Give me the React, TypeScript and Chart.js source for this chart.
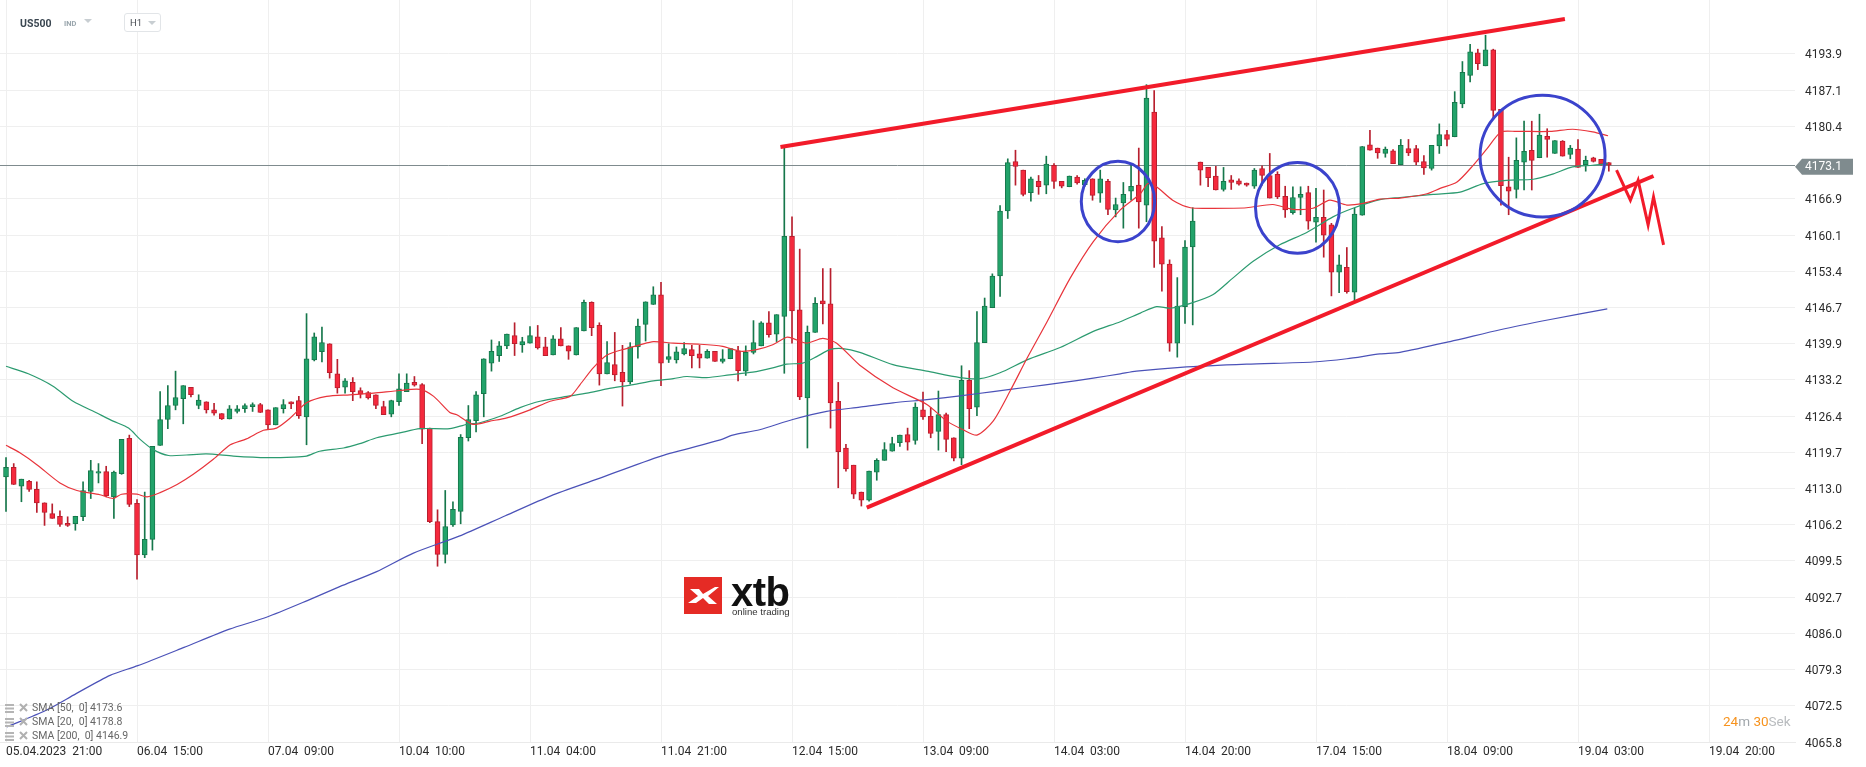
import React, { useEffect, useRef } from "react";
import { Chart, registerables } from "chart.js";

Chart.register(...registerables);

// ---------- DATA ----------
const xTickIndex = [0, 17, 34, 51, 68, 85, 102, 119, 136, 153, 170, 187, 204, 221];
const xTickLabels = [
  "05.04.2023  21:00", "06.04  15:00", "07.04  09:00", "10.04  10:00", "11.04  04:00",
  "11.04  21:00", "12.04  15:00", "13.04  09:00", "14.04  03:00", "14.04  20:00",
  "17.04  15:00", "18.04  09:00", "19.04  03:00", "19.04  20:00",
];
const yTickValues = [
  4065.8, 4072.5, 4079.3, 4086.0, 4092.7, 4099.5, 4106.2, 4113.0, 4119.7, 4126.4,
  4133.2, 4139.9, 4146.7, 4153.4, 4160.1, 4166.9, 4180.4, 4187.1, 4193.9,
];

const opens = [
  4115.1,4116.9,4113.4,4114.3,4112.8,4110.3,4108.3,4107.8,4106.5,4106.4,
  4107.7,4112.4,4115.8,4116.1,4111.4,4115.7,4122.3,4110.2,4100.6,4103.5,
  4121.0,4125.8,4128.4,4129.7,4131.8,4128.4,4129.1,4127.6,4126.9,4125.9,
  4127.3,4127.8,4128.2,4128.6,4127.6,4124.8,4127.8,4129.1,4129.3,4126.3,
  4136.9,4138.4,4139.9,4134.3,4131.8,4132.7,4131.2,4130.8,4130.4,4128.2,
  4126.8,4129.1,4131.0,4132.7,4132.3,4124.2,4106.8,4100.7,4106.2,4108.7,
  4122.4,4125.6,4130.6,4136.3,4137.7,4139.5,4141.4,4139.7,4140.0,4141.2,
  4139.3,4137.8,4140.8,4139.5,4137.8,4142.3,4147.6,4143.3,4134.3,4136.0,
  4134.6,4132.8,4139.3,4143.5,4147.2,4149.0,4137.0,4136.9,4138.0,4138.8,
  4138.0,4137.2,4138.5,4136.6,4137.1,4138.6,4134.8,4138.3,4139.5,4143.8,
  4141.7,4145.0,4159.9,4146.2,4129.8,4142.0,4147.9,4147.3,4129.2,4120.5,
  4117.3,4112.3,4110.8,4116.0,4118.2,4119.9,4121.5,4123.0,4121.9,4127.6,
  4126.4,4123.6,4126.7,4122.4,4118.6,4133.1,4128.1,4140.1,4146.6,4152.5,
  4164.6,4173.8,4172.2,4168.0,4170.1,4169.4,4173.1,4170.1,4169.1,4170.9,
  4169.5,4170.6,4167.9,4170.1,4164.8,4166.1,4168.3,4169.4,4165.7,4183.0,
  4159.6,4154.7,4140.0,4146.8,4157.9,4173.7,4172.7,4171.1,4168.6,4170.4,
  4170.2,4169.8,4169.2,4172.5,4171.2,4171.4,4167.3,4164.3,4167.1,4168.0,
  4162.5,4163.4,4162.0,4153.2,4154.1,4149.5,4163.8,4176.9,4176.3,4175.3,
  4175.8,4173.2,4176.2,4176.2,4173.8,4172.5,4176.7,4178.8,4178.4,4184.5,
  4189.8,4194.0,4191.6,4194.6,4183.5,4169.1,4168.6,4173.7,4175.9,4174.5,
  4178.5,4175.3,4177.6,4175.1,4176.1,4173.2,4174.5,4174.2,4173.6,
];
const highs = [
  4118.7,4117.6,4114.7,4114.5,4114.2,4110.3,4110.1,4108.8,4107.7,4107.8,
  4114.2,4118.2,4117.6,4117.1,4116.2,4122.1,4122.9,4110.9,4112.3,4120.8,
  4131.0,4132.1,4134.8,4132.1,4131.8,4130.4,4129.1,4128.8,4126.9,4128.4,
  4128.4,4128.7,4128.9,4128.8,4127.6,4128.0,4129.5,4129.1,4130.1,4145.5,
  4141.9,4143.0,4139.9,4137.0,4133.4,4133.6,4131.7,4131.0,4130.4,4129.2,
  4129.4,4134.3,4134.3,4133.8,4132.5,4124.2,4109.0,4112.6,4110.5,4123.0,
  4128.4,4131.0,4137.1,4140.6,4140.3,4141.7,4143.8,4141.1,4143.1,4143.3,
  4141.1,4141.4,4142.9,4139.5,4142.9,4148.0,4147.7,4143.8,4140.3,4142.0,
  4139.6,4140.1,4144.5,4147.7,4150.5,4151.3,4139.9,4139.3,4140.1,4139.6,
  4139.6,4138.8,4138.5,4138.8,4139.0,4139.4,4139.5,4144.2,4144.0,4145.9,
  4145.3,4176.5,4163.5,4157.5,4143.2,4148.5,4153.9,4153.9,4132.7,4121.2,
  4117.3,4112.3,4116.2,4118.5,4121.5,4122.5,4122.9,4124.2,4128.9,4130.9,
  4128.0,4131.1,4127.0,4122.4,4135.8,4134.9,4145.9,4148.4,4152.9,4165.6,
  4174.3,4175.9,4172.2,4170.9,4171.2,4174.8,4173.4,4170.1,4171.1,4171.2,
  4170.6,4170.6,4172.2,4170.5,4167.0,4169.9,4173.1,4176.3,4188.1,4187.0,
  4161.7,4155.5,4152.2,4159.1,4165.2,4173.7,4172.7,4172.9,4172.7,4171.2,
  4170.6,4169.8,4172.5,4173.0,4175.3,4171.9,4169.2,4169.1,4169.1,4169.2,
  4168.8,4168.5,4162.3,4156.4,4157.8,4165.1,4176.6,4179.6,4176.3,4176.5,
  4176.0,4177.9,4177.9,4176.8,4174.9,4176.8,4180.8,4179.6,4186.8,4192.4,
  4195.6,4194.7,4197.3,4194.7,4183.5,4174.6,4178.2,4181.3,4181.3,4182.6,
  4179.9,4177.7,4177.7,4176.8,4177.9,4174.8,4174.6,4174.2,4173.6,
];
const lows = [
  4108.7,4113.7,4110.5,4112.4,4108.5,4106.1,4107.4,4105.9,4105.9,4105.2,
  4107.0,4111.1,4114.0,4111.4,4107.4,4115.6,4109.6,4096.1,4100.1,4101.5,
  4121.0,4124.1,4127.6,4125.0,4130.0,4127.8,4127.0,4126.6,4125.8,4125.9,
  4127.0,4127.1,4127.3,4127.1,4123.9,4124.8,4127.0,4127.8,4126.0,4121.1,
  4136.7,4136.5,4133.5,4130.7,4130.7,4129.3,4129.8,4129.6,4127.8,4126.7,
  4126.3,4128.4,4131.0,4132.0,4121.3,4106.6,4098.5,4099.1,4105.9,4106.4,
  4121.8,4123.5,4126.3,4134.8,4136.6,4139.0,4137.7,4138.3,4140.0,4138.9,
  4137.7,4137.8,4139.5,4137.0,4137.8,4142.3,4141.4,4132.2,4134.3,4133.0,
  4128.3,4132.4,4137.2,4140.4,4147.2,4132.1,4136.4,4136.3,4137.8,4135.4,
  4135.4,4137.2,4136.6,4136.3,4137.1,4133.0,4134.0,4138.0,4139.5,4141.1,
  4140.3,4134.4,4140.0,4129.5,4120.5,4142.0,4143.6,4124.2,4113.1,4116.2,
  4111.1,4109.7,4110.6,4114.5,4118.2,4119.9,4120.8,4120.1,4121.2,4125.8,
  4122.4,4120.1,4119.8,4118.1,4117.4,4124.1,4126.5,4140.1,4146.6,4148.7,
  4163.2,4169.4,4167.4,4166.4,4167.7,4167.8,4168.8,4168.9,4169.1,4169.6,
  4169.2,4166.6,4166.2,4163.9,4163.5,4161.4,4166.6,4161.4,4162.6,4154.1,
  4149.7,4138.5,4137.4,4143.7,4143.4,4169.4,4169.1,4168.5,4168.3,4168.6,
  4169.4,4169.2,4168.8,4169.4,4167.0,4166.9,4163.4,4164.0,4163.9,4161.2,
  4158.8,4156.0,4148.8,4149.4,4149.3,4147.9,4163.8,4175.9,4174.4,4174.6,
  4173.4,4173.2,4174.9,4173.2,4171.4,4172.2,4175.3,4176.7,4178.4,4183.8,
  4188.6,4190.9,4191.6,4181.8,4165.7,4163.9,4167.0,4168.5,4168.5,4174.5,
  4174.6,4175.3,4174.8,4174.3,4172.7,4172.0,4173.7,4173.1,4172.0,
];
const closes = [
  4116.9,4113.7,4114.7,4112.8,4110.3,4108.5,4107.4,4106.3,4106.1,4107.8,
  4112.6,4116.3,4116.1,4111.6,4116.0,4122.1,4110.0,4100.6,4103.5,4120.8,
  4125.8,4128.4,4129.9,4132.1,4130.4,4129.4,4127.6,4127.0,4125.9,4127.8,
  4127.8,4128.4,4128.6,4127.1,4124.8,4128.0,4128.6,4128.7,4126.5,4137.1,
  4141.2,4140.1,4134.5,4131.7,4133.0,4131.0,4130.5,4129.8,4128.4,4126.7,
  4129.3,4131.5,4132.6,4132.2,4124.0,4106.8,4100.7,4105.9,4109.1,4122.5,
  4125.8,4130.4,4137.1,4138.5,4139.5,4141.7,4139.9,4140.3,4141.4,4139.1,
  4137.7,4140.8,4139.5,4138.5,4142.9,4147.6,4142.9,4134.3,4136.4,4134.1,
  4132.8,4139.3,4143.2,4147.7,4149.0,4136.3,4137.5,4138.4,4139.0,4137.7,
  4137.2,4138.5,4136.6,4137.1,4139.0,4134.9,4138.3,4140.1,4143.8,4141.6,
  4145.3,4159.9,4146.0,4130.0,4142.0,4147.4,4147.3,4128.9,4119.8,4116.6,
  4111.9,4110.8,4116.2,4118.2,4120.2,4121.3,4122.9,4121.6,4128.1,4126.3,
  4123.2,4126.7,4122.1,4118.6,4133.1,4127.8,4140.1,4146.9,4152.5,4164.6,
  4173.6,4172.9,4167.7,4170.6,4169.1,4173.3,4170.1,4169.2,4171.1,4169.8,
  4170.3,4167.5,4170.6,4164.9,4165.8,4167.7,4169.2,4166.3,4185.6,4159.0,
  4154.7,4140.0,4146.9,4157.9,4162.7,4172.2,4170.8,4168.5,4170.1,4169.9,
  4169.6,4169.4,4172.2,4171.2,4167.0,4167.2,4164.8,4167.1,4167.7,4162.7,
  4163.4,4160.1,4153.2,4154.6,4149.6,4164.0,4176.6,4175.9,4175.4,4176.1,
  4173.4,4176.8,4175.4,4173.7,4172.6,4176.8,4178.8,4177.9,4184.8,4190.4,
  4194.2,4192.0,4194.6,4183.3,4169.3,4168.3,4174.0,4175.7,4174.0,4178.7,
  4177.9,4177.7,4174.8,4176.3,4172.7,4174.0,4173.8,4173.3,4173.1,
];

// moving averages: [bar index, value]
const sma20: [number, number][] = [
  [0,4121.0],[1.8,4119.6],[4.0,4117.4],[7.0,4114.0],[9.2,4112.6],[12.2,4111.8],[13.9,4111.1],[15.0,4111.9],
  [17.0,4111.9],[18.3,4111.4],[20.0,4112.2],[22.2,4113.7],[24.3,4115.6],[26.9,4118.4],[29.1,4121.1],[31.2,4122.2],
  [33.4,4123.8],[35.1,4124.2],[36.9,4126.1],[39.0,4128.9],[41.6,4130.1],[44.6,4130.4],[47.7,4130.7],[51.1,4131.2],
  [53.7,4131.4],[55.5,4130.1],[57.6,4127.1],[58.5,4126.7],[60.6,4124.9],[62.8,4125.5],[65.0,4126.1],[68.0,4127.6],
  [70.6,4129.2],[73.2,4130.1],[74.5,4132.3],[76.2,4135.4],[78.0,4137.8],[80.5,4139.0],[82.3,4139.7],[84.0,4140.3],
  [86.6,4140.0],[90.1,4139.8],[93.0,4139.4],[95.3,4138.5],[97.4,4138.8],[99.5,4139.7],[101.3,4141.1],[102.1,4140.9],
  [103.9,4140.0],[106.0,4140.9],[107.8,4140.0],[110.8,4135.9],[115.1,4131.7],[119.5,4128.6],[122.1,4125.5],[124.2,4123.9],
  [126.0,4122.9],[128.1,4125.5],[130.3,4131.1],[132.5,4137.2],[135.1,4144.0],[138.1,4152.1],[141.1,4158.9],[144.6,4164.8],
  [147.2,4167.8],[148.2,4169.7],[149.3,4169.1],[151.4,4166.6],[153.7,4165.2],[156.6,4165.1],[161.0,4165.2],[164.4,4165.8],
  [167.0,4164.9],[169.6,4165.1],[171.8,4166.6],[174.0,4165.7],[176.1,4166.0],[178.3,4166.8],[180.9,4167.0],[184.4,4167.8],
  [186.1,4168.8],[188.3,4170.0],[190.4,4173.1],[192.2,4176.2],[194.0,4179.3],[196.0,4179.4],[200.4,4179.4],[203.3,4179.8],
  [205.9,4179.3],[207.9,4178.6],
];
const sma50: [number, number][] = [
  [0,4135.7],[2.9,4134.3],[6.1,4132.0],[8.7,4129.2],[11.8,4127.0],[13.9,4125.5],[15.9,4124.2],[17.4,4122.1],
  [19.1,4120.2],[21.1,4119.1],[23.4,4119.2],[26.0,4119.4],[29.5,4119.0],[33.8,4118.7],[37.3,4118.8],[39.0,4119.0],
  [40.7,4119.9],[43.8,4120.5],[45.9,4121.3],[48.1,4122.4],[51.1,4123.3],[53.7,4124.1],[57.6,4124.1],[59.8,4124.9],
  [61.5,4125.2],[64.1,4126.4],[66.7,4128.0],[69.3,4129.2],[72.8,4130.1],[75.4,4130.7],[78.0,4131.5],[81.4,4132.3],
  [84.0,4133.0],[86.6,4133.4],[88.3,4133.8],[90.9,4133.6],[93.9,4134.1],[96.9,4134.6],[99.5,4135.4],[101.3,4136.1],
  [103.4,4136.3],[105.2,4137.5],[106.9,4138.8],[108.6,4139.0],[110.8,4138.3],[115.1,4136.0],[119.5,4134.8],[123.8,4133.6],
  [126.4,4133.4],[129.0,4134.5],[132.5,4136.9],[136.8,4139.2],[141.1,4142.2],[144.6,4144.0],[147.2,4145.6],[149.3,4146.8],
  [151.1,4146.5],[153.7,4147.4],[156.6,4149.0],[159.2,4152.1],[161.8,4155.2],[165.3,4158.3],[168.8,4160.6],[172.2,4163.5],
  [174.8,4165.1],[178.3,4166.7],[180.9,4167.1],[185.2,4167.7],[188.7,4168.1],[191.7,4169.7],[194.7,4170.3],[198.2,4170.5],
  [200.8,4171.5],[203.3,4172.8],[205.9,4173.1],[207.9,4173.4],
];
const sma200: [number, number][] = [
  [0.1,4068.6],[5.2,4071.7],[9.1,4074.8],[13.5,4078.2],[17.1,4080.0],[23.1,4083.4],[29.0,4086.8],[33.8,4089.0],
  [39.1,4092.1],[43.3,4094.7],[48.1,4097.5],[52.8,4100.9],[58.8,4104.1],[64.8,4107.9],[70.7,4111.6],[76.7,4114.7],
  [85.0,4119.0],[92.7,4122.0],[94.3,4122.9],[97.8,4123.9],[102.1,4125.8],[106.5,4127.3],[110.8,4128.1],[115.1,4128.9],
  [119.5,4129.5],[123.8,4130.2],[128.1,4131.0],[132.5,4131.8],[136.8,4132.6],[141.1,4133.5],[144.6,4134.3],[146.7,4134.8],
  [152.4,4135.5],[161.0,4136.1],[169.6,4136.5],[174.0,4137.1],[178.3,4138.0],[180.9,4138.3],[187.4,4140.3],[193.9,4142.5],
  [200.4,4144.4],[207.8,4146.4],
];

const lastPrice = 4173.1;
// drawn annotations, in [bar index, price]
const upperTrend: [number, number][] = [[100.5, 4176.5], [202.3, 4200.3]];
const lowerTrend: [number, number][] = [[111.7, 4109.4], [213.8, 4171.1]];
const zigzag: [number, number][] = [[209.0, 4172.2], [210.8, 4166.6], [211.8, 4170.3], [213.1, 4162.0], [213.8, 4167.2], [215.1, 4158.3]];
// circles: centre index, centre price, radius in bars, radius in price
const circles: [number, number, number, number][] = [
  [144.3, 4166.35, 4.76, 7.48],
  [167.6, 4165.18, 5.45, 8.44],
  [199.4, 4174.82, 8.11, 11.32],
];
const legendRows = ["SMA [50,  0] 4173.6", "SMA [20,  0] 4178.8", "SMA [200,  0] 4146.9"];

// ---------- STYLE ----------
const GREEN = "#22a36a";
const GREEN_B = "#16774b";
const RED = "#f5293d";
const RED_B = "#b81f2e";
const FONT = "Roboto, 'Noto Sans', sans-serif";

const annotations = {
  id: "annotations",
  beforeDatasetsDraw(chart: any) {
    const { ctx, chartArea, scales } = chart;
    const y = Math.round(scales.y.getPixelForValue(lastPrice)) + 0.5;
    ctx.save();
    ctx.strokeStyle = "#7f8b8e";
    ctx.lineWidth = 1;
    ctx.beginPath();
    ctx.moveTo(chartArea.left, y);
    ctx.lineTo(chartArea.right, y);
    ctx.stroke();
    ctx.restore();
  },
  afterDatasetsDraw(chart: any) {
    const { ctx, scales } = chart;
    const px = (p: [number, number]) => [scales.x.getPixelForValue(p[0]), scales.y.getPixelForValue(p[1])];
    const poly = (pts: [number, number][], w: number, c: string) => {
      ctx.save();
      ctx.strokeStyle = c;
      ctx.lineWidth = w;
      ctx.lineJoin = "miter";
      ctx.beginPath();
      pts.forEach((p, i) => {
        const [x, y] = px(p);
        if (i === 0) ctx.moveTo(x, y);
        else ctx.lineTo(x, y);
      });
      ctx.stroke();
      ctx.restore();
    };
    poly(upperTrend, 4, "#f21b2a");
    poly(lowerTrend, 4, "#f21b2a");
    poly(zigzag, 3, "#f21b2a");
    ctx.save();
    ctx.strokeStyle = "#3b43cc";
    ctx.lineWidth = 3;
    circles.forEach(([ci, cp, ri, rp]) => {
      const cx = scales.x.getPixelForValue(ci);
      const cy = scales.y.getPixelForValue(cp);
      const rx = scales.x.getPixelForValue(ci + ri) - cx;
      const ry = cy - scales.y.getPixelForValue(cp + rp);
      ctx.beginPath();
      ctx.ellipse(cx, cy, rx, ry, 0, 0, Math.PI * 2);
      ctx.stroke();
    });
    ctx.restore();
  },
  afterDraw(chart: any) {
    const { ctx, chartArea, scales } = chart;
    const y = scales.y.getPixelForValue(lastPrice) + 1.5;
    const x0 = chartArea.right;
    ctx.save();
    ctx.fillStyle = "#7f8b8e";
    ctx.beginPath();
    ctx.moveTo(x0, y);
    ctx.lineTo(x0 + 7, y - 8);
    ctx.lineTo(x0 + 58, y - 8);
    ctx.lineTo(x0 + 58, y + 8);
    ctx.lineTo(x0 + 7, y + 8);
    ctx.closePath();
    ctx.fill();
    ctx.fillStyle = "#ffffff";
    ctx.font = `12px ${FONT}`;
    ctx.textBaseline = "middle";
    ctx.textAlign = "left";
    ctx.fillText(lastPrice.toFixed(1), x0 + 10, y + 0.5);
    ctx.restore();
  },
};

export default function App() {
  const ref = useRef<HTMLCanvasElement>(null);

  useEffect(() => {
    const idx = opens.map((_, i) => i);
    const isUp = idx.map((i) => closes[i] >= opens[i]);
    const bodies = idx.map((i) => ({ x: i, y: [opens[i], closes[i]] }));
    const wicks = idx.map((i) => ({ x: i, y: [lows[i], highs[i]] }));
    const toPts = (arr: [number, number][]) => arr.map(([x, y]) => ({ x, y }));

    const chart = new Chart(ref.current as HTMLCanvasElement, {
      type: "bar",
      data: {
        datasets: [
          {
            type: "line", label: "SMA20", data: toPts(sma20) as any, borderColor: "#e8343b",
            borderWidth: 1.2, pointRadius: 0, tension: 0.25, order: 0,
          } as any,
          {
            type: "line", label: "SMA50", data: toPts(sma50) as any, borderColor: "#2c9b70",
            borderWidth: 1.2, pointRadius: 0, tension: 0.25, order: 0,
          } as any,
          {
            type: "line", label: "SMA200", data: toPts(sma200) as any, borderColor: "#4b52b8",
            borderWidth: 1.2, pointRadius: 0, tension: 0.25, order: 0,
          } as any,
          {
            type: "bar", label: "body", data: bodies as any,
            backgroundColor: isUp.map((u) => (u ? GREEN : RED)),
            borderColor: isUp.map((u) => (u ? GREEN_B : RED_B)),
            borderWidth: 1, borderSkipped: false, barThickness: 5, minBarLength: 1,
            grouped: false, order: 1,
          } as any,
          {
            type: "bar", label: "wick", data: wicks as any,
            backgroundColor: isUp.map((u) => (u ? GREEN_B : RED_B)),
            borderWidth: 0, barThickness: 1, grouped: false, order: 2,
          } as any,
        ],
      },
      options: {
        animation: false,
        responsive: false,
        maintainAspectRatio: false,
        layout: { padding: 0 },
        plugins: { legend: { display: false }, tooltip: { enabled: false } },
        scales: {
          x: {
            type: "linear",
            min: -0.78,
            max: 232.16,
            offset: false,
            grid: { color: "#efefef", drawTicks: false, offset: false },
            border: { display: true, color: "#eaeaea" },
            afterBuildTicks: (s: any) => {
              s.ticks = xTickIndex.map((v) => ({ value: v }));
            },
            afterFit: (s: any) => {
              s.height = 25;
              s.paddingLeft = 0;
              s.paddingRight = 0;
            },
            ticks: {
              autoSkip: false,
              maxRotation: 0,
              minRotation: 0,
              align: "start",
              padding: 3,
              color: "#2b2b2b",
              font: { family: FONT, size: 12 },
              callback: (v: any) => {
                const k = xTickIndex.indexOf(Number(v));
                return k >= 0 ? xTickLabels[k] : "";
              },
            },
          },
          y: {
            type: "linear",
            position: "right",
            min: 4065.8,
            max: 4203.85,
            grid: { color: "#efefef", drawTicks: false },
            border: { display: false },
            afterBuildTicks: (s: any) => {
              s.ticks = yTickValues.map((v) => ({ value: v }));
            },
            afterFit: (s: any) => {
              s.width = 71;
              s.paddingTop = 0;
              s.paddingBottom = 0;
            },
            ticks: {
              padding: 10,
              labelOffset: 1.5,
              color: "#2b2b2b",
              font: { family: FONT, size: 12 },
              callback: (v: any) => Number(v).toFixed(1),
            },
          },
        },
      },
      plugins: [annotations],
    });
    return () => chart.destroy();
  }, []);

  const abs = (s: React.CSSProperties): React.CSSProperties => ({ position: "absolute", ...s });

  return (
    <div style={{ position: "fixed", left: 0, top: 0, width: 1866, height: 767, background: "#fff", overflow: "hidden", fontFamily: FONT }}>
      <canvas ref={ref} width={1866} height={767} style={{ position: "absolute", left: 0, top: 0, width: 1866, height: 767 }} />

      {/* header */}
      <div style={abs({ left: 20, top: 17, fontSize: 10.5, fontWeight: 700, color: "#3b4751", lineHeight: "13px" })}>US500</div>
      <div style={abs({ left: 64, top: 19, fontSize: 7.5, fontWeight: 700, color: "#9aa6ad", lineHeight: "9px" })}>IND</div>
      <svg style={abs({ left: 84, top: 19 })} width="8" height="4"><polygon points="0,0 8,0 4,4" fill="#c8ced2" /></svg>
      <div style={abs({ left: 124, top: 13, width: 35, height: 17, border: "1px solid #e2e5e8", borderRadius: 3, background: "#fff" })}>
        <div style={abs({ left: 5, top: 3, fontSize: 9.5, color: "#4a4f55", lineHeight: "11px" })}>H1</div>
        <svg style={abs({ left: 23, top: 7 })} width="8" height="4"><polygon points="0,0 8,0 4,4" fill="#c8ced2" /></svg>
      </div>

      {/* legend */}
      {legendRows.map((t, i) => (
        <div key={t} style={abs({ left: 5, top: 701 + i * 14.2, height: 13, display: "flex", alignItems: "center", whiteSpace: "pre" })}>
          <svg width="11" height="10" style={{ marginRight: 3 }}>
            <rect x="0" y="1" width="9" height="2" fill="#b5b5b5" />
            <rect x="0" y="4.5" width="9" height="2" fill="#b5b5b5" />
            <rect x="0" y="8" width="9" height="2" fill="#b5b5b5" />
          </svg>
          <svg width="9" height="9" style={{ marginRight: 4 }}>
            <path d="M1,1 L8,8 M8,1 L1,8" stroke="#b0b0b0" strokeWidth="2" />
          </svg>
          <span style={{ fontSize: 10.5, color: "#666", lineHeight: "13px" }}>{t}</span>
        </div>
      ))}

      {/* countdown */}
      <div style={abs({ left: 1723, top: 713, fontSize: 13.5, lineHeight: "17px", whiteSpace: "pre" })}>
        <span style={{ color: "#f7931e" }}>24</span>
        <span style={{ color: "#a0a6ab" }}>m </span>
        <span style={{ color: "#f7931e" }}>30</span>
        <span style={{ color: "#b9bcbf" }}>Sek</span>
      </div>

      {/* logo */}
      <div style={abs({ left: 684, top: 577, width: 38, height: 37, background: "#e52b25" })}>
        <svg width="38" height="37" style={{ position: "absolute", left: 0, top: 0 }}>
          <polygon points="6,12 15,12 19,17 31,10 35,10 24,19 33,27 25,27 19,21 12,26 4,26 14,19" fill="#fff" />
        </svg>
      </div>
      <div style={abs({ left: 731, top: 572, fontSize: 40, fontWeight: 700, color: "#111", lineHeight: "40px", fontFamily: "'Liberation Sans', Arial, sans-serif", letterSpacing: -0.5 })}>xtb</div>
      <div style={abs({ left: 732, top: 606, fontSize: 9.6, color: "#333", lineHeight: "12px", fontFamily: "'Liberation Sans', Arial, sans-serif" })}>online trading</div>
    </div>
  );
}
